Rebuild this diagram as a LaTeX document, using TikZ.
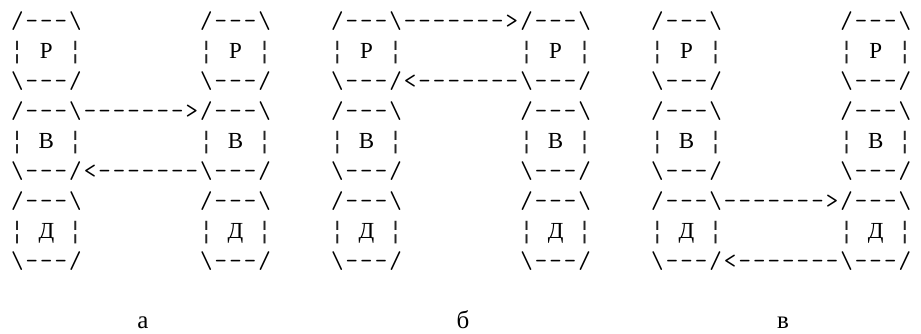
\documentclass[tikz,border=0pt]{standalone}
\usepackage{fontspec}
\newfontfamily\lettfont{Liberation Serif}
\newfontfamily\barfont{Liberation Mono}
\newcommand\cw{14.55}
\tikzset{
  glyph/.style={font=\ttfamily\fontsize{24.25}{30}\selectfont, anchor=base, inner sep=0pt, outer sep=0pt, text=black},
  barglyph/.style={font=\barfont\fontsize{24.25}{30}\selectfont, anchor=base, inner sep=0pt, outer sep=0pt, text=black!85},
  letter/.style={font=\lettfont\fontsize{23}{30}\selectfont, anchor=base, inner sep=0pt, outer sep=0pt, text=black},
  lab/.style={font=\lettfont\fontsize{25}{30}\selectfont, anchor=base, inner sep=0pt, outer sep=0pt, text=black}
}
\newcommand\dsh{-}
% #1 name prefix, #2 start column, #3 row, #4 list of glyphs
\newcommand\putseq[4]{%
  \foreach \c [count=\i from 0] in {#4} {
    \pgfmathsetmacro\xx{10+(#2+\i+0.5)*\cw}
    \pgfmathsetmacro\yy{-(28+30*(#3-1))}
    \node[glyph] (#1-\i) at (\xx,\yy) {\c};
  }}
% #1 name, #2 column, #3 top row, #4 letter
\newcommand\putbox[4]{%
  \putseq{#1t}{#2}{#3}{/,\dsh,\dsh,\dsh,\textbackslash}
  \pgfmathsetmacro\ym{-(28+30*#3)}
  \pgfmathsetmacro\xl{10+(#2+0.5)*\cw}
  \pgfmathsetmacro\xc{10+(#2+2.5)*\cw}
  \pgfmathsetmacro\xr{10+(#2+4.5)*\cw}
  \node[barglyph] (#1l) at (\xl,\ym) {¦};
  \node[letter] (#1c) at (\xc,\ym) {#4};
  \node[barglyph] (#1r) at (\xr,\ym) {¦};
  \pgfmathtruncatemacro\rb{#3+2}
  \putseq{#1b}{#2}{\rb}{\textbackslash,\dsh,\dsh,\dsh,/}
}
\begin{document}
\begin{tikzpicture}[x=1pt,y=1pt]
\fill[white] (0,0) rectangle (921,-333);
\useasboundingbox (0,0) rectangle (921,-333);
% boxes
\foreach \p/\pn in {0/a,1/b,2/c}{
  \foreach \k/\L in {0/Р,1/В,2/Д}{
    \foreach \b in {0,1}{
      \pgfmathtruncatemacro\cc{22*\p+13*\b}
      \pgfmathtruncatemacro\rr{3*\k+1}
      \putbox{\pn\k\b}{\cc}{\rr}{\L}
    }
  }
}
% connectors: right arrows on a box's top line, left arrows on its bottom line
\putseq{arrA1}{5}{4}{\dsh,\dsh,\dsh,\dsh,\dsh,\dsh,\dsh,>}
\putseq{arrA2}{5}{6}{<,\dsh,\dsh,\dsh,\dsh,\dsh,\dsh,\dsh}
\putseq{arrB1}{27}{1}{\dsh,\dsh,\dsh,\dsh,\dsh,\dsh,\dsh,>}
\putseq{arrB2}{27}{3}{<,\dsh,\dsh,\dsh,\dsh,\dsh,\dsh,\dsh}
\putseq{arrC1}{49}{7}{\dsh,\dsh,\dsh,\dsh,\dsh,\dsh,\dsh,>}
\putseq{arrC2}{49}{9}{<,\dsh,\dsh,\dsh,\dsh,\dsh,\dsh,\dsh}
% labels
\node[lab] (labA) at (143,-328) {а};
\node[lab] (labB) at (463,-328) {б};
\node[lab] (labC) at (783,-328) {в};
\end{tikzpicture}
\end{document}
